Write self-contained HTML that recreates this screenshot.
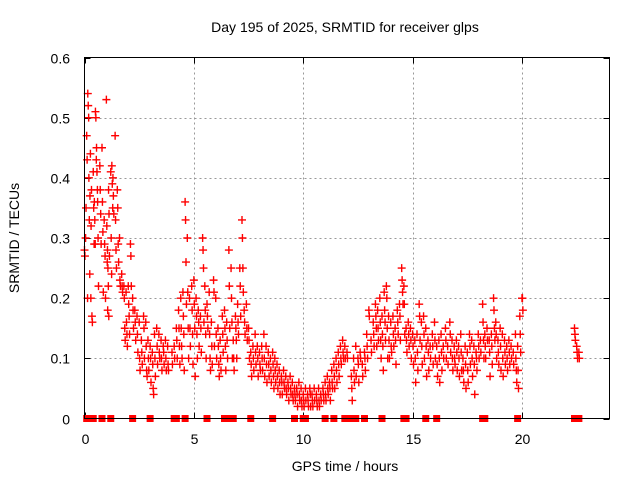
<!DOCTYPE html>
<html><head><meta charset="utf-8"><style>
body{margin:0;background:#fff;}
svg{display:block;font-family:"Liberation Sans",sans-serif;}
</style></head><body>
<svg id="chart" width="640" height="480">
<text x="345" y="32" text-anchor="middle" font-size="14" fill="#000">Day 195 of 2025, SRMTID for receiver glps</text>
<text x="345" y="471" text-anchor="middle" font-size="14" fill="#000">GPS time / hours</text>
<text transform="translate(19,238) rotate(-90)" text-anchor="middle" font-size="14" fill="#000">SRMTID / TECUs</text>
<g id="grid"></g>
<g id="ticks"></g>
<g id="marks"></g>
<rect x="84.5" y="57.5" width="525" height="361" fill="none" stroke="#000" stroke-width="1"/>
</svg>
<script>
const xTicks=[0,5,10,15,20];
const yTicks=[0,0.1,0.2,0.3,0.4,0.5,0.6];
const yTickLabels=["0","0.1","0.2","0.3","0.4","0.5","0.6"];
const times=[0.0,0.05,0.1,0.15,0.2,0.25,0.3,0.4,0.45,0.5,0.55,0.6,0.7,0.8,0.9,1.0,1.05,1.1,1.2,1.25,1.3,1.4,1.5,1.6,1.7,1.8,1.9,2.0,2.1,2.2,2.3,2.4,2.5,2.6,2.7,2.8,2.9,3.0,3.1,3.2,3.3,3.4,3.5,3.6,3.7,3.8,4.0,4.1,4.2,4.3,4.4,4.5,4.6,4.7,4.8,4.9,5.0,5.1,5.2,5.3,5.4,5.5,5.6,5.7,5.8,5.9,6.0,6.1,6.2,6.3,6.4,6.5,6.6,6.7,6.8,6.9,7.0,7.1,7.2,7.3,7.4,7.5,7.6,7.7,7.8,7.9,8.0,8.1,8.2,8.3,8.4,8.5,8.6,8.7,8.8,8.9,9.0,9.1,9.2,9.3,9.4,9.5,9.6,9.7,9.8,9.9,10.0,10.1,10.2,10.3,10.4,10.5,10.6,10.7,10.8,10.9,11.0,11.1,11.2,11.3,11.4,11.5,11.6,11.7,11.8,11.9,12.0,12.2,12.3,12.4,12.5,12.6,12.7,12.8,12.9,13.0,13.1,13.2,13.3,13.4,13.5,13.6,13.7,13.8,13.9,14.0,14.1,14.2,14.3,14.4,14.5,14.6,14.7,14.8,14.9,15.0,15.1,15.2,15.3,15.4,15.5,15.6,15.7,15.8,15.9,16.0,16.1,16.2,16.3,16.4,16.5,16.6,16.7,16.8,16.9,17.0,17.1,17.2,17.3,17.4,17.5,17.6,17.7,17.8,17.9,18.0,18.1,18.2,18.3,18.4,18.5,18.6,18.7,18.8,18.9,19.0,19.1,19.2,19.3,19.4,19.5,19.6,19.7,19.8,19.9,20.0,22.4,22.5,22.6];
const values=[[0.28,0.27],[0.3,0.35],[0.47,0.43,0.2],[0.54,0.52,0.5],[0.4,0.33,0.24],[0.37,0.44,0.2],[0.32,0.38,0.17,0.16],[0.41,0.35,0.29],[0.36,0.33,0.29],[0.51,0.5,0.43],[0.45,0.41,0.38],[0.36,0.3,0.22],[0.42,0.38,0.34,0.29],[0.45,0.36,0.31,0.21],[0.33,0.29,0.27,0.2],[0.53,0.32,0.26,0.18],[0.28,0.25,0.22,0.17],[0.38,0.34,0.27],[0.41,0.3,0.24],[0.42,0.39,0.35],[0.4,0.37,0.34],[0.47,0.33,0.28,0.25],[0.38,0.35,0.29,0.26],[0.3,0.23,0.22],[0.24,0.22,0.21],[0.22,0.2,0.15,0.13],[0.21,0.16,0.14,0.12],[0.22,0.19,0.17,0.14],[0.29,0.27,0.22],[0.2,0.18,0.15],[0.18,0.16,0.13],[0.17,0.14,0.11],[0.16,0.1,0.08],[0.13,0.11,0.09],[0.17,0.15,0.1],[0.16,0.12,0.08,0.07],[0.13,0.1,0.08],[0.12,0.1,0.06],[0.11,0.09,0.05,0.04],[0.14,0.1,0.07],[0.15,0.12,0.09],[0.14,0.11,0.1],[0.13,0.1,0.08],[0.12,0.11,0.09],[0.13,0.1,0.08],[0.12,0.09,0.08],[0.11,0.09],[0.12,0.1],[0.15,0.13,0.1],[0.18,0.15,0.12,0.09],[0.2,0.15,0.12,0.1],[0.21,0.17,0.14,0.08],[0.36,0.33,0.26,0.19],[0.3,0.21,0.15,0.1],[0.2,0.15,0.12],[0.22,0.18,0.14,0.09],[0.23,0.19,0.15,0.07],[0.2,0.17,0.14,0.1],[0.18,0.16,0.12],[0.17,0.15,0.11],[0.3,0.28,0.25,0.16],[0.22,0.18,0.14,0.1],[0.19,0.17,0.15],[0.21,0.14,0.1,0.08],[0.16,0.12,0.09],[0.23,0.21,0.12],[0.2,0.14,0.1],[0.15,0.12,0.09,0.07],[0.13,0.1,0.08],[0.17,0.14,0.11],[0.18,0.15,0.12,0.08],[0.16,0.13,0.1],[0.28,0.22,0.15],[0.25,0.2,0.16,0.1],[0.13,0.1,0.08],[0.17,0.15,0.13,0.1],[0.19,0.16,0.14],[0.25,0.22,0.17],[0.33,0.3,0.25,0.21],[0.18,0.16,0.14],[0.19,0.15,0.13],[0.15,0.13,0.1],[0.11,0.09,0.07],[0.12,0.1,0.08],[0.14,0.11,0.09],[0.12,0.1,0.07],[0.11,0.09,0.08],[0.12,0.1,0.08],[0.14,0.1,0.07],[0.12,0.09,0.06],[0.11,0.09,0.07],[0.1,0.08,0.06],[0.11,0.09,0.07,0.05],[0.1,0.08,0.06],[0.09,0.07,0.05],[0.08,0.06,0.04],[0.07,0.06,0.04],[0.08,0.06,0.05],[0.07,0.05,0.04],[0.06,0.05,0.03],[0.07,0.05,0.04],[0.06,0.04,0.03],[0.05,0.04,0.03],[0.05,0.04,0.02],[0.06,0.04,0.03],[0.05,0.03,0.02],[0.04,0.03,0.02],[0.05,0.03],[0.04,0.03,0.02],[0.05,0.04,0.02],[0.04,0.03,0.02],[0.05,0.03],[0.04,0.03,0.02],[0.05,0.03,0.02],[0.04,0.03],[0.05,0.04,0.03],[0.06,0.04,0.03],[0.07,0.05,0.04],[0.06,0.05,0.03],[0.08,0.06,0.05],[0.09,0.07,0.05],[0.1,0.08,0.06],[0.11,0.09,0.07],[0.12,0.1,0.09],[0.13,0.11,0.1],[0.12,0.1],[0.11,0.1],[0.07,0.05,0.03],[0.1,0.08,0.06],[0.12,0.07],[0.1,0.09,0.06],[0.11,0.1],[0.09,0.07],[0.11,0.1,0.08],[0.14,0.12,0.1],[0.18,0.17],[0.13,0.11],[0.16,0.14,0.12],[0.19,0.17,0.15,0.12],[0.18,0.15,0.13],[0.2,0.16,0.13,0.1],[0.17,0.14,0.12,0.08],[0.21,0.18,0.16,0.13],[0.22,0.2,0.15,0.1],[0.17,0.13,0.1],[0.16,0.12,0.11],[0.17,0.14,0.12],[0.15,0.13,0.09],[0.18,0.16,0.14],[0.19,0.17,0.13],[0.25,0.23,0.21,0.19],[0.22,0.19,0.14],[0.15,0.13,0.11],[0.16,0.14,0.12],[0.15,0.13,0.1],[0.14,0.12,0.09],[0.13,0.1,0.06],[0.14,0.11,0.08],[0.19,0.17,0.13],[0.16,0.12,0.09],[0.17,0.14,0.1],[0.15,0.12,0.07],[0.13,0.11,0.08],[0.12,0.1],[0.14,0.12,0.09],[0.16,0.13,0.1],[0.12,0.09,0.07],[0.13,0.1,0.06],[0.14,0.11,0.08],[0.12,0.1],[0.15,0.13,0.1],[0.12,0.09],[0.16,0.14,0.11],[0.13,0.1,0.08],[0.12,0.1,0.09],[0.13,0.11,0.08],[0.12,0.1,0.07],[0.14,0.11,0.08],[0.1,0.08,0.06],[0.12,0.09,0.05],[0.11,0.08,0.06],[0.14,0.12,0.09],[0.13,0.1,0.07],[0.12,0.09,0.04],[0.11,0.1,0.08],[0.14,0.12,0.1],[0.13,0.11],[0.19,0.16,0.13,0.1],[0.14,0.12,0.1],[0.15,0.13],[0.13,0.11,0.07],[0.14,0.12,0.09],[0.2,0.18,0.15,0.13],[0.16,0.14,0.1],[0.13,0.11,0.09],[0.15,0.12,0.08],[0.14,0.1,0.07],[0.13,0.11,0.09],[0.12,0.1,0.08],[0.13,0.11,0.09],[0.12,0.1],[0.11,0.09],[0.14,0.1,0.08,0.06],[0.12,0.08,0.05],[0.17,0.14,0.11],[0.2,0.2,0.18],[0.15,0.14,0.13],[0.12,0.11,0.1],[0.11,0.1]];
const zeroTimes=[0.1,0.4,0.8,1.2,2.2,3.0,4.1,4.2,4.6,5.6,6.4,6.7,6.8,7.6,8.6,9.6,10.0,10.1,11.0,11.4,11.9,12.1,12.4,12.8,13.6,14.6,14.7,15.6,16.1,18.2,18.3,19.8,22.4,22.6];

const NS="http://www.w3.org/2000/svg";
const X0=84.5,X1=609.5,Y0=418.5,Y1=57.5,XMAX=24,YMAX=0.6;
function xs(t){return X0+(X1-X0)*t/XMAX;}
function ys(v){return Y0-(Y0-Y1)*v/YMAX;}
function mk(tag,attrs,parent){const e=document.createElementNS(NS,tag);for(const k in attrs)e.setAttribute(k,attrs[k]);parent.appendChild(e);return e;}
const grid=document.getElementById('grid'),ticks=document.getElementById('ticks'),marks=document.getElementById('marks');
xTicks.forEach(t=>{const x=Math.round(xs(t))+0.5;
 if(t>0){const g=mk('line',{x1:x,x2:x,y1:Y1,y2:Y0,stroke:'#999','stroke-dasharray':'2,3'},grid);
 
 }
 mk('line',{x1:x,x2:x,y1:Y0,y2:Y0-6,stroke:'#000'},ticks);
 mk('line',{x1:x,x2:x,y1:Y1,y2:Y1+6,stroke:'#000'},ticks);
 const l=mk('text',{x:x,y:444,'text-anchor':'middle','font-size':'14'},ticks);l.textContent=String(t);
 
 });
yTicks.forEach((v,i)=>{const y=Math.round(ys(v))+0.5;
 if(v>0&&v<0.6){const g=mk('line',{x1:X0,x2:X1,y1:y,y2:y,stroke:'#999','stroke-dasharray':'2,3'},grid);
 
 }
 mk('line',{x1:X0,x2:X0+6,y1:y,y2:y,stroke:'#000'},ticks);
 mk('line',{x1:X1,x2:X1-6,y1:y,y2:y,stroke:'#000'},ticks);
 const l=mk('text',{x:70,y:y+5,'text-anchor':'end','font-size':'14'},ticks);l.textContent=yTickLabels[i];
 
 });
function plus(t,v){const x=xs(t),y=ys(v);
 const p=mk('path',{d:`M${x-4},${y}H${x+4}M${x},${y-4}V${y+4}`,stroke:'#f00','stroke-width':'1.4',fill:'none'},marks);
 
 }
times.forEach((t,i)=>{values[i].forEach((v,j)=>plus(t+j*0.02,v));});
zeroTimes.forEach(t=>{const r=mk('rect',{x:xs(t)-3.5,y:Y0-3.5,width:7,height:7,fill:'#f00'},marks);
 
 });
</script>
</body></html>
